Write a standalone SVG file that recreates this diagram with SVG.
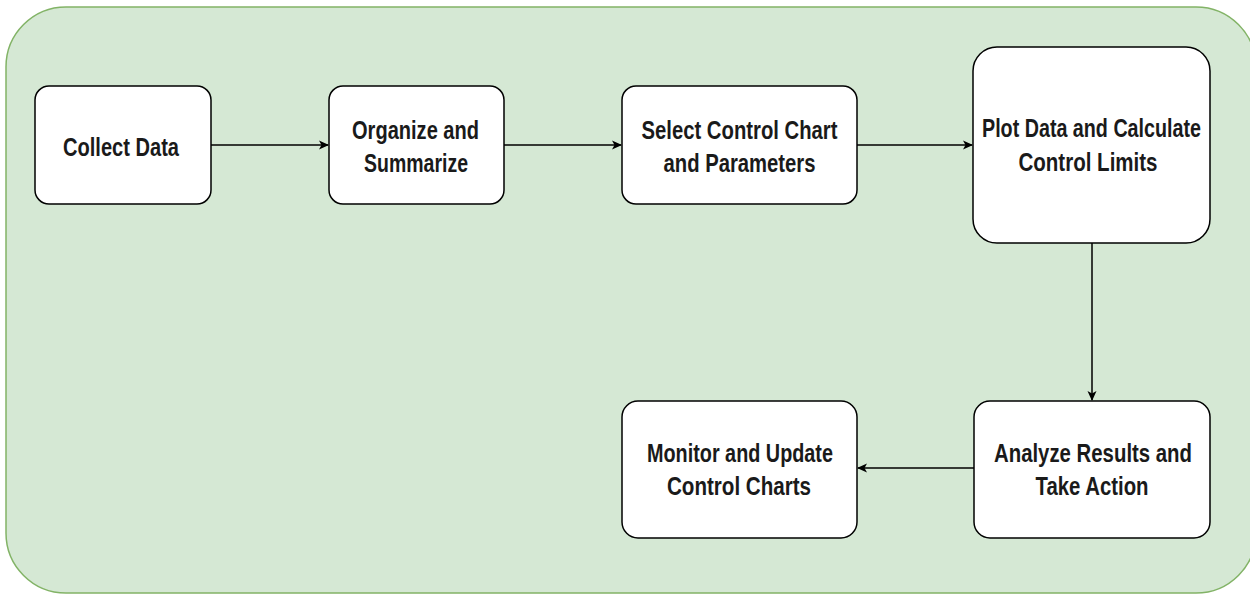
<svg xmlns="http://www.w3.org/2000/svg" width="1250" height="594" viewBox="0 0 1250 594">
<defs>
<marker id="arr" markerWidth="12" markerHeight="12" refX="10" refY="6" orient="auto" markerUnits="userSpaceOnUse">
<path d="M1,1.5 L11,6 L1,10.5 L3.5,6 Z" fill="#000"/>
</marker>
</defs>
<style>
.bg{fill:#d5e8d4;stroke:#82b366;stroke-width:1.5}
.node{fill:#ffffff;stroke:#000;stroke-width:1.5}
.lbl{font-family:"Liberation Sans",Arial,sans-serif;font-weight:bold;font-size:25px;fill:#1a1a1a;text-anchor:middle}
.edge{fill:none;stroke:#000;stroke-width:1.5;marker-end:url(#arr)}
</style>
<rect width="1250" height="594" fill="#ffffff"/>
<rect class="bg" x="6" y="7" width="1250" height="586" rx="60" ry="60"/>
<g id="n1"><rect class="node" x="35" y="86" width="176" height="118" rx="14"/><text class="lbl" x="121" y="156" textLength="116" lengthAdjust="spacingAndGlyphs">Collect Data</text></g>
<g id="n2"><rect class="node" x="329" y="86" width="175" height="118" rx="14"/><text class="lbl" x="415.5" y="139" textLength="127" lengthAdjust="spacingAndGlyphs">Organize and</text><text class="lbl" x="416" y="172" textLength="104" lengthAdjust="spacingAndGlyphs">Summarize</text></g>
<g id="n3"><rect class="node" x="622" y="86" width="235" height="118" rx="14"/><text class="lbl" x="739.5" y="139" textLength="196" lengthAdjust="spacingAndGlyphs">Select Control Chart</text><text class="lbl" x="739.5" y="172" textLength="152" lengthAdjust="spacingAndGlyphs">and Parameters</text></g>
<g id="n4"><rect class="node" x="973" y="47" width="237" height="196" rx="24"/><text class="lbl" x="1091.5" y="137" textLength="219" lengthAdjust="spacingAndGlyphs">Plot Data and Calculate</text><text class="lbl" x="1088" y="171" textLength="139" lengthAdjust="spacingAndGlyphs">Control Limits</text></g>
<g id="n5"><rect class="node" x="974" y="401" width="236" height="137" rx="16"/><text class="lbl" x="1093" y="462" textLength="198" lengthAdjust="spacingAndGlyphs">Analyze Results and</text><text class="lbl" x="1092" y="495" textLength="113" lengthAdjust="spacingAndGlyphs">Take Action</text></g>
<g id="n6"><rect class="node" x="622" y="401" width="235" height="137" rx="16"/><text class="lbl" x="740" y="462" textLength="186" lengthAdjust="spacingAndGlyphs">Monitor and Update</text><text class="lbl" x="739" y="495" textLength="144" lengthAdjust="spacingAndGlyphs">Control Charts</text></g>
<g id="edges">
<line class="edge" x1="211" y1="145" x2="328" y2="145"/>
<line class="edge" x1="504" y1="145" x2="621" y2="145"/>
<line class="edge" x1="857" y1="145" x2="972" y2="145"/>
<line class="edge" x1="1092" y1="243" x2="1092" y2="400"/>
<line class="edge" x1="974" y1="468" x2="858" y2="468"/>
</g>
</svg>
